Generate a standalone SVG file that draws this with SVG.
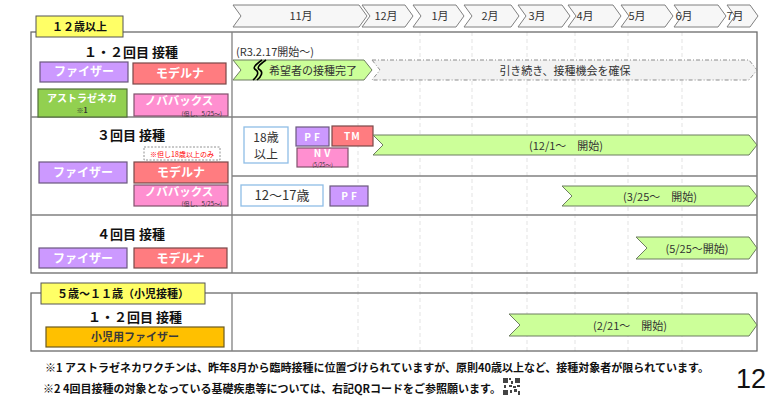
<svg xmlns="http://www.w3.org/2000/svg" width="772" height="402" viewBox="0 0 772 402">
<style>
text{font-family:"Noto Sans CJK JP","Noto Sans",sans-serif}
.frame{fill:none;stroke:#6b6b6b;stroke-width:1.3}
.div{stroke:#808080;stroke-width:1.3}
.grid{stroke:#dcdcdc;stroke-width:0.8;stroke-dasharray:4 3}
.mon{fill:#f7f7f7;stroke:#808080;stroke-width:1}
.mt{font-size:11px;fill:#333;text-anchor:middle}
.lab{fill:#ffff66;stroke:#555;stroke-width:1}
.pf{fill:#cc99ff;stroke:#6a587e;stroke-width:1.2}
.tm{fill:#ff7c80;stroke:#7a4848;stroke-width:1.2}
.az{fill:#92d050;stroke:#52703a;stroke-width:1.2}
.nv{fill:#ff8fd0;stroke:#80526c;stroke-width:1.2}
.ch{fill:#ffc000;stroke:#6b5a20;stroke-width:1.2}
.age{fill:#fff;stroke:#8fbde6;stroke-width:1.3}
.bar{fill:#ccff99;stroke:#6d7d60;stroke-width:1}
.gbar{fill:#f2f2f2;stroke:#8c8c8c;stroke-width:1;stroke-dasharray:4 2 1 2}
.w{fill:#fff;font-weight:bold;text-anchor:middle}
.h{font-size:13px;font-weight:bold;fill:#111;text-anchor:middle}
.bt{font-size:11px;fill:#333;text-anchor:middle}
.sm{font-size:6px;fill:#333;text-anchor:end}
.fn{font-size:11px;fill:#111;font-weight:bold}
</style>

<g id="header">
  <g id="m11"><polygon class="mon" points="233,5 359,5 367,16 359,27 233,27 241,16"/><text class="mt" x="301" y="20">11月</text></g>
  <g id="m12"><polygon class="mon" points="362,5 405,5 413,16 405,27 362,27 370,16"/><text class="mt" x="386" y="20">12月</text></g>
  <g id="m1"><polygon class="mon" points="413,5 456,5 464,16 456,27 413,27 421,16"/><text class="mt" x="440" y="20">1月</text></g>
  <g id="m2"><polygon class="mon" points="464,5 511,5 519,16 511,27 464,27 472,16"/><text class="mt" x="490" y="20">2月</text></g>
  <g id="m3"><polygon class="mon" points="518,5 562,5 570,16 562,27 518,27 526,16"/><text class="mt" x="537" y="20">3月</text></g>
  <g id="m4"><polygon class="mon" points="568,5 613,5 621,16 613,27 568,27 576,16"/><text class="mt" x="585" y="20">4月</text></g>
  <g id="m5"><polygon class="mon" points="621,5 665,5 673,16 665,27 621,27 629,16"/><text class="mt" x="637" y="20">5月</text></g>
  <g id="m6"><polygon class="mon" points="674,5 718,5 726,16 718,27 674,27 682,16"/><text class="mt" x="684" y="20">6月</text></g>
  <g id="m7"><polygon class="mon" points="727,5 750,5 758,16 750,27 727,27 735,16"/><text class="mt" x="735" y="20">7月</text></g>
</g>

<g id="gridlines">
  <line class="grid" x1="358" y1="32" x2="358" y2="351"/>
  <line class="grid" x1="420" y1="32" x2="420" y2="351"/>
  <line class="grid" x1="472" y1="32" x2="472" y2="351"/>
  <line class="grid" x1="527" y1="32" x2="527" y2="351"/>
  <line class="grid" x1="575" y1="32" x2="575" y2="351"/>
  <line class="grid" x1="628" y1="32" x2="628" y2="351"/>
  <line class="grid" x1="682" y1="32" x2="682" y2="351"/>
</g>

<g id="section12">
  <rect class="frame" x="31" y="32" width="726" height="241"/>
  <line class="div" x1="232" y1="32" x2="232" y2="273"/>
  <line class="div" x1="31" y1="117" x2="757" y2="117"/>
  <line class="div" x1="232" y1="176" x2="757" y2="176"/>
  <line class="div" x1="31" y1="215" x2="757" y2="215"/>
  <g id="label12"><rect class="lab" x="36" y="16" width="87" height="21"/><text x="79.5" y="31" style="font-size:11px;font-weight:bold;fill:#111;text-anchor:middle">１２歳以上</text></g>
</g>

<g id="row-dose12">
  <text class="h" x="131" y="57">１・２回目 接種</text>
  <g id="d12-pfizer"><rect class="pf" x="40" y="62" width="88" height="20"/><text class="w" x="84" y="76" font-size="12">ファイザー</text></g>
  <g id="d12-moderna"><rect class="tm" x="133" y="63" width="93" height="21"/><text class="w" x="180" y="78" font-size="12">モデルナ</text></g>
  <g id="d12-az"><rect class="az" x="38" y="89" width="89" height="28"/><text class="w" x="82" y="102" font-size="10">アストラゼネカ</text><text x="82" y="113" style="font-size:7px;font-weight:bold;fill:#333;text-anchor:middle">※1</text></g>
  <g id="d12-nova"><rect class="nv" x="134" y="94" width="94" height="22"/><text class="w" x="179" y="105" font-size="11.5">ノババックス</text><text class="sm" x="222" y="115.5">(但し、5/25～)</text></g>
  <text x="236" y="56" style="font-size:11px;fill:#333">(R3.2.17開始～)</text>
  <g id="bar-done">
    <polygon class="bar" points="233,60 364,60 372,70 364,80 233,80 241,70"/>
    <path d="M266,60 C259,65 256,68 260,70 C263,72 262,76 257,80" fill="none" stroke="#000" stroke-width="1.6"/>
    <path d="M262,60 C255,65 252,68 256,70 C259,72 258,76 253,80" fill="none" stroke="#000" stroke-width="1.6"/>
    <text class="bt" x="313" y="74.5" font-size="10.5">希望者の接種完了</text>
  </g>
  <g id="bar-continue">
    <polygon class="gbar" points="372,60 749,60 757,70 749,80 372,80 380,70"/>
    <text class="bt" x="565" y="74.5">引き続き、接種機会を確保</text>
  </g>
</g>

<g id="row-dose3">
  <text class="h" x="131" y="140">３回目 接種</text>
  <g id="d3-note"><rect x="144" y="147" width="76" height="13" fill="#fff" stroke="#777" stroke-width="0.8" stroke-dasharray="2 1.5"/><text x="182" y="156.5" style="font-size:7px;fill:#ff0000;text-anchor:middle">※但し18歳以上のみ</text></g>
  <g id="d3-pfizer"><rect class="pf" x="39" y="162" width="88" height="21"/><text class="w" x="83" y="177" font-size="12">ファイザー</text></g>
  <g id="d3-moderna"><rect class="tm" x="134" y="162" width="94" height="21"/><text class="w" x="181" y="177" font-size="12">モデルナ</text></g>
  <g id="d3-nova"><rect class="nv" x="134" y="185" width="94" height="21"/><text class="w" x="179" y="196" font-size="11.5">ノババックス</text><text class="sm" x="222" y="206">(但し、5/25～)</text></g>
  <g id="age18"><rect class="age" x="244" y="127" width="44" height="36"/><text x="266" y="141.5" style="font-size:12px;fill:#333;text-anchor:middle">18歳</text><text x="266" y="159" style="font-size:12px;fill:#333;text-anchor:middle">以上</text></g>
  <g id="a18-pf"><rect class="pf" x="296" y="127" width="33" height="19"/><text class="w" x="313.5" y="140.5" font-size="10" letter-spacing="3">PF</text></g>
  <g id="a18-tm"><rect class="tm" x="332" y="126" width="41" height="20"/><text class="w" x="352.5" y="140" font-size="10" letter-spacing="1">TM</text></g>
  <g id="a18-nv"><rect class="nv" x="297" y="148" width="51" height="19"/><text class="w" x="323.5" y="157" font-size="10" letter-spacing="3">NV</text><text x="322.5" y="166.5" style="font-size:5.5px;fill:#333;text-anchor:middle">(5/25～)</text></g>
  <g id="bar-18"><polygon class="bar" points="373,135 749,135 757,145 749,155 373,155 383,145"/><text class="bt" x="566" y="149.5">(12/1～　開始)</text></g>
  <g id="age12"><rect class="age" x="241" y="185" width="82" height="21"/><text x="282" y="200" style="font-size:13px;fill:#333;text-anchor:middle">12～17歳</text></g>
  <g id="a12-pf"><rect class="pf" x="330" y="186" width="38" height="20"/><text class="w" x="350.5" y="199.5" font-size="10" letter-spacing="3">PF</text></g>
  <g id="bar-12"><polygon class="bar" points="562,186 749,186 757,196 749,206 562,206 572,196"/><text class="bt" x="660" y="200.5">(3/25～　開始)</text></g>
</g>

<g id="row-dose4">
  <text class="h" x="131" y="239">４回目 接種</text>
  <g id="d4-pfizer"><rect class="pf" x="39" y="248" width="88" height="20"/><text class="w" x="83" y="262.5" font-size="12">ファイザー</text></g>
  <g id="d4-moderna"><rect class="tm" x="134" y="248" width="93" height="20"/><text class="w" x="180.5" y="262.5" font-size="12">モデルナ</text></g>
  <g id="bar-4"><polygon class="bar" points="636,237 749,237 757,248 749,259 636,259 647,248"/><text class="bt" x="697" y="252.5">(5/25～開始)</text></g>
</g>

<g id="section-child">
  <rect class="frame" x="31" y="293" width="726" height="58"/>
  <line class="div" x1="232" y1="293" x2="232" y2="351"/>
  <g id="label-child"><rect class="lab" x="41" y="283" width="164" height="21"/><text x="123" y="298" style="font-size:11px;font-weight:bold;fill:#111;text-anchor:middle">５歳～１１歳（小児接種）</text></g>
  <text class="h" x="135" y="322">１・２回目 接種</text>
  <g id="child-pfizer"><rect class="ch" x="46" y="327" width="178" height="20"/><text x="135" y="341" style="font-size:11px;font-weight:bold;fill:#3a3a3a;text-anchor:middle">小児用ファイザー</text></g>
  <g id="bar-child"><polygon class="bar" points="509,314 749,314 757,325 749,336 509,336 520,325"/><text class="bt" x="630" y="329.5">(2/21～　開始)</text></g>
</g>

<g id="footnotes">
  <text class="fn" x="45" y="372">※1 アストラゼネカワクチンは、昨年8月から臨時接種に位置づけられていますが、原則40歳以上など、接種対象者が限られています。</text>
  <text class="fn" x="43" y="393">※2 4回目接種の対象となっている基礎疾患等については、右記QRコードをご参照願います。</text>
  <g id="qr" fill="#444">
    <rect x="503" y="378" width="5" height="5"/><rect x="515" y="378" width="5" height="5"/><rect x="503" y="390" width="5" height="5"/>
    <rect x="509" y="378" width="2" height="2"/><rect x="511" y="381" width="2" height="3"/><rect x="509" y="385" width="3" height="2"/>
    <rect x="504" y="385" width="2" height="3"/><rect x="513" y="386" width="3" height="2"/><rect x="517" y="385" width="3" height="2"/>
    <rect x="510" y="390" width="2" height="3"/><rect x="514" y="389" width="3" height="3"/><rect x="518" y="391" width="2" height="4"/>
  </g>
  <text x="751" y="388" style="font-family:'Liberation Sans',sans-serif;font-size:27px;fill:#111;text-anchor:middle">12</text>
</g>
</svg>
